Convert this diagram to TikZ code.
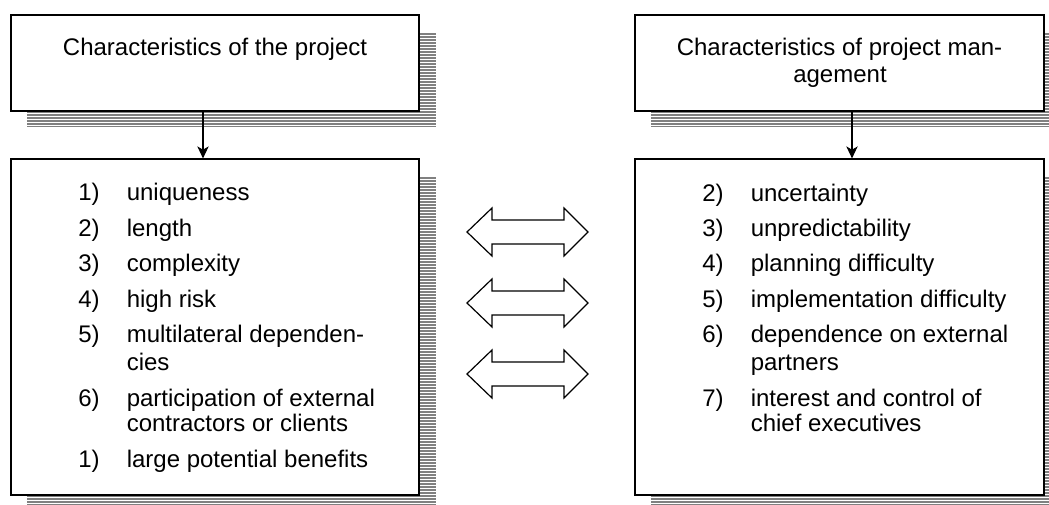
\documentclass[tikz,border=0pt]{standalone}
\usepackage{fontspec}
\setmainfont{Liberation Sans}
\usetikzlibrary{arrows.meta,calc}
\definecolor{shadowgray}{RGB}{128,128,128}
\newcommand\stripeshadow[5]{%
  \fill[shadowgray] (#1+16,#2+18) rectangle (#3+17,#4+16);
  \foreach \k in {0,...,#5}
    \draw[white,line width=0.6pt] (#1+16,#2+20+3*\k) -- (#3+17,#2+20+3*\k);
}
\begin{document}
\begin{tikzpicture}[x=0.75pt,y=-0.75pt,
  box/.style={draw=black,fill=white,line width=0.9pt,inner sep=0pt,rectangle},
  topbox/.style={box,minimum width=306pt,minimum height=72pt},
  listbox/.style={box,minimum width=306pt,minimum height=252pt},
  txt/.style={inner sep=0pt,anchor=base west,font=\fontsize{18pt}{21pt}\selectfont},
  flow/.style={line width=0.9pt,-{Stealth[length=9pt,width=8.5pt,inset=2.5pt]}},
  dbl/.style={draw=black,fill=white,line width=0.9pt,line join=miter}]
\clip (0,0) rectangle (1049,505);
\useasboundingbox (0,0) rectangle (1049,505);

% shadows
\stripeshadow{11}{15}{419}{111}{30}
\stripeshadow{635}{15}{1044}{111}{30}
\stripeshadow{11}{159}{419}{495}{108}
\stripeshadow{635}{159}{1044}{495}{108}

% boxes
\node[topbox] (tl) at (215,63) {};
\node[topbox,minimum width=306.75pt] (tr) at (839.5,63) {};
\node[listbox] (bl) at (215,327) {};
\node[listbox,minimum width=306.75pt] (br) at (839.5,327) {};

% titles
\node[txt,anchor=base] (tlt) at (215,55.5) {Characteristics of the project};
\node[txt,anchor=base] (trt1) at (839.5,56) {Characteristics of project man-};
\node[txt,anchor=base] (trt2) at (840,82.5) {agement};

% connectors
\draw[flow] ($(tl.south)+(-12,0)$) -- ($(bl.north)+(-12,0)$);
\draw[flow] ($(tr.south)+(12.5,0)$) -- ($(br.north)+(12.5,0)$);

% left list
\node[txt] (ln1) at (78,201) {1)};   \node[txt] (lt1) at (126.5,201) {uniqueness};
\node[txt] (ln2) at (78,236.5) {2)}; \node[txt] (lt2) at (126.5,236.5) {length};
\node[txt] (ln3) at (78,272) {3)};   \node[txt] (lt3) at (126.5,272) {complexity};
\node[txt] (ln4) at (78,307.5) {4)}; \node[txt] (lt4) at (126.5,307.5) {high risk};
\node[txt] (ln5) at (78,343) {5)};   \node[txt] (lt5) at (126.5,343) {multilateral dependen-};
\node[txt] (lt5b) at (126.5,370.5) {cies};
\node[txt] (ln6) at (78,406.5) {6)}; \node[txt] (lt6) at (126.5,406.5) {participation of external};
\node[txt] (lt6b) at (126.5,432) {contractors or clients};
\node[txt] (ln7) at (78,467.5) {1)}; \node[txt] (lt7) at (126.5,467.5) {large potential benefits};

% right list
\node[txt] (rn1) at (702,201.5) {2)}; \node[txt] (rt1) at (750.5,201.5) {uncertainty};
\node[txt] (rn2) at (702,236.5) {3)}; \node[txt] (rt2) at (750.5,236.5) {unpredictability};
\node[txt] (rn3) at (702,272) {4)};   \node[txt] (rt3) at (750.5,272) {planning difficulty};
\node[txt] (rn4) at (702,307.5) {5)}; \node[txt] (rt4) at (750.5,307.5) {implementation difficulty};
\node[txt] (rn5) at (702,343) {6)};   \node[txt] (rt5) at (750.5,343) {dependence on external};
\node[txt] (rt5b) at (750.5,370.5) {partners};
\node[txt] (rn6) at (702,406.5) {7)}; \node[txt] (rt6) at (750.5,406.5) {interest and control of};
\node[txt] (rt6b) at (750.5,432) {chief executives};

% double arrows
\foreach \cy/\nm in {232/da1,303/da2,374/da3}{
  \coordinate (\nm) at (527.5,\cy);
  \draw[dbl] (467,\cy) -- (492,\cy-24) -- (492,\cy-12) -- (564,\cy-12) -- (564,\cy-24)
    -- (588,\cy) -- (564,\cy+24) -- (564,\cy+12) -- (492,\cy+12) -- (492,\cy+24) -- cycle;
}
\end{tikzpicture}
\end{document}
